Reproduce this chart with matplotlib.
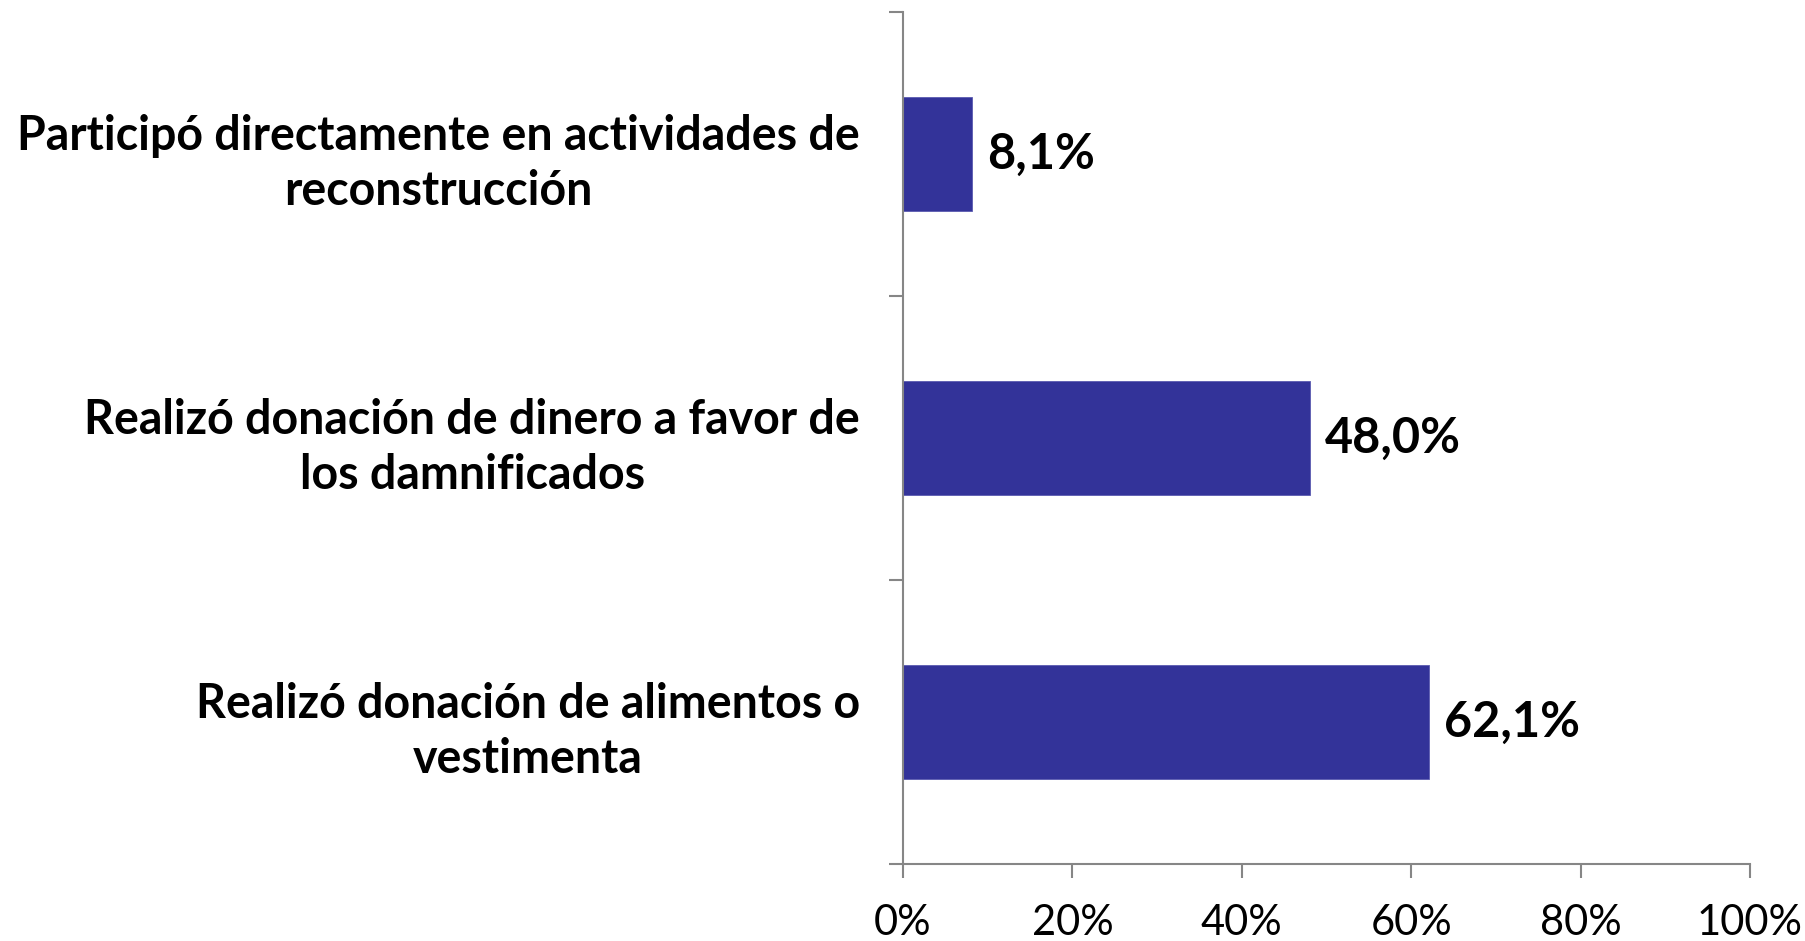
import matplotlib
matplotlib.use("Agg")
import matplotlib.pyplot as plt
import numpy as np

# Datos (de arriba hacia abajo)
categorias = [
    "Participó directamente en actividades de\nreconstrucción",
    "Realizó donación de dinero a favor de\nlos damnificados",
    "Realizó donación de alimentos o\nvestimenta",
]
valores = [8.1, 48.0, 62.1]
etiquetas_valor = ["8,1%", "48,0%", "62,1%"]
xticks = [0, 20, 40, 60, 80, 100]
xtick_labels = ["0%", "20%", "40%", "60%", "80%", "100%"]

BAR_COLOR = "#333399"
AXIS_COLOR = "#868686"

plt.rcParams["font.family"] = ["Lato", "DejaVu Sans"]

fig = plt.figure(figsize=(18.06, 9.41), dpi=100)
ax = fig.add_axes([0.5, 0.0818, 0.969 - 0.5, 0.9872 - 0.0818])

pos = np.arange(len(categorias))[::-1]
bars = ax.barh(pos, valores, height=0.4, color=BAR_COLOR, edgecolor="#5a5ab0", linewidth=0.6)
ax.bar_label(bars, labels=etiquetas_valor, padding=11, fontsize=35, fontweight="bold")

ax.set_xlim(0, 100)
ax.set_ylim(-0.5, len(categorias) - 0.5)

ax.set_xticks(xticks)
ax.set_xticklabels(xtick_labels, fontsize=30)
ax.tick_params(axis="x", length=10, width=1.5, color=AXIS_COLOR, pad=19)

ax.set_yticks(pos)
ax.set_yticklabels(categorias, fontsize=33.5, fontweight="bold", ha="right",
                   multialignment="center", linespacing=1.3)
ax.tick_params(axis="y", which="major", length=0, pad=31)
ax.set_yticks(np.arange(-0.5, len(categorias)), minor=True)
ax.tick_params(axis="y", which="minor", length=10, width=1.5, color=AXIS_COLOR)

for side in ("top", "right"):
    ax.spines[side].set_visible(False)
for side in ("left", "bottom"):
    ax.spines[side].set_color(AXIS_COLOR)
    ax.spines[side].set_linewidth(1.5)

fig.savefig("out.png", dpi=100)
